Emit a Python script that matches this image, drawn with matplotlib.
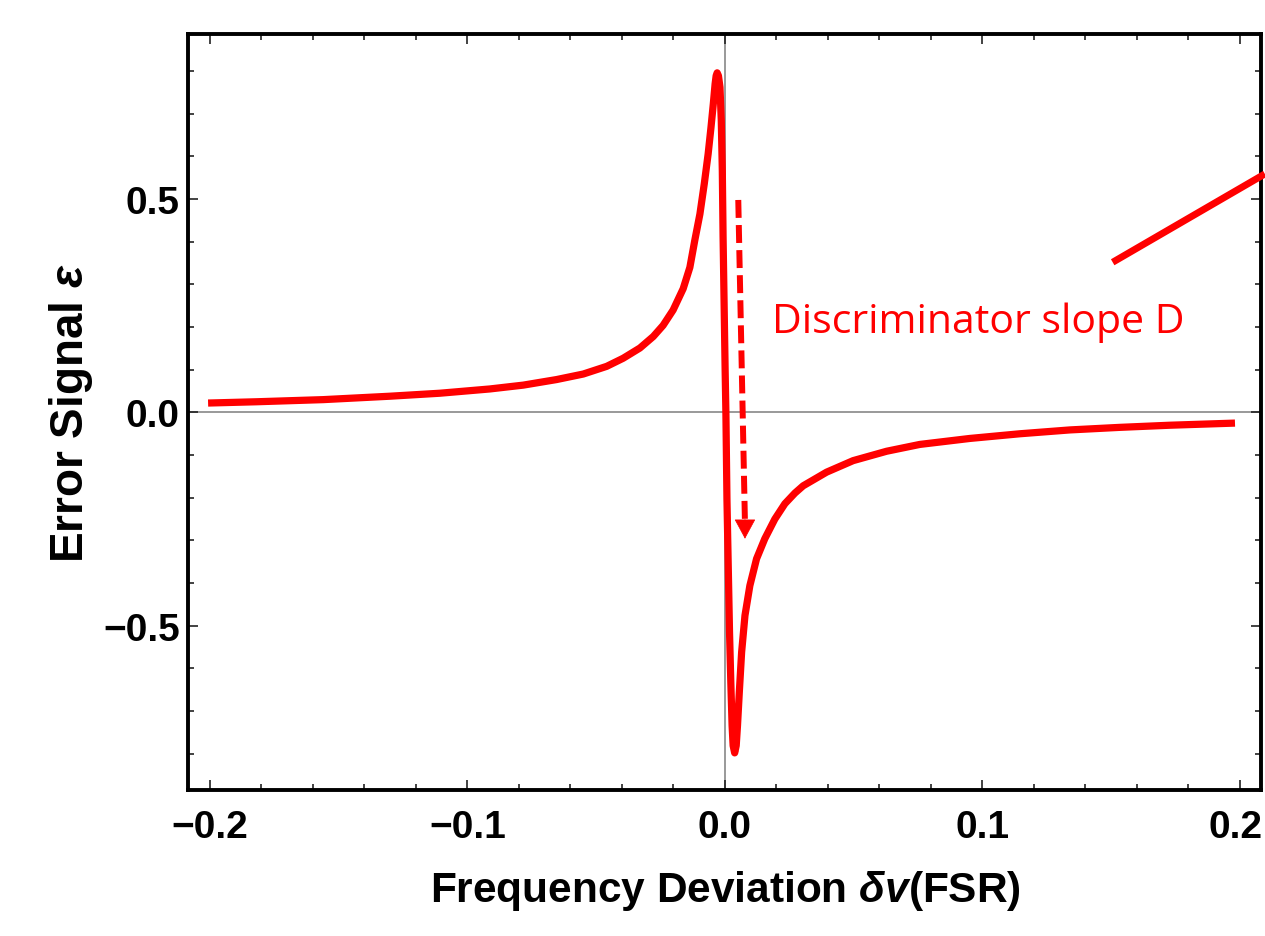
import matplotlib
matplotlib.use("Agg")
import matplotlib.pyplot as plt
from matplotlib.ticker import MultipleLocator
from matplotlib.transforms import ScaledTranslation

# ---- data ----
dv_left = [-0.2007, -0.1819, -0.1560, -0.1301, -0.1107, -0.0913, -0.0783, -0.0654,
           -0.0550, -0.0459, -0.0395, -0.0330, -0.0278, -0.0240, -0.0201, -0.0162,
           -0.0136, -0.0117, -0.0097, -0.0080, -0.0065, -0.0054, -0.0045, -0.0038,
           -0.0034, -0.0030, -0.0025, -0.0019, -0.0014, -0.0010, -0.0007, -0.0003,
           0.0001, 0.0004]
eps_left = [0.022, 0.025, 0.030, 0.038, 0.045, 0.055, 0.064, 0.077,
            0.090, 0.108, 0.127, 0.151, 0.178, 0.204, 0.240, 0.290,
            0.340, 0.403, 0.465, 0.536, 0.606, 0.668, 0.723, 0.770,
            0.789, 0.796, 0.789, 0.762, 0.684, 0.567, 0.411, 0.254,
            0.098, -0.004]
dv_right = [0.0008, 0.0013, 0.0018, 0.0023, 0.0028, 0.0032, 0.0038, 0.0044,
            0.0049, 0.0056, 0.0065, 0.0078, 0.0097, 0.0123, 0.0155, 0.0194,
            0.0233, 0.0272, 0.0304, 0.0395, 0.0498, 0.0628, 0.0757, 0.0951,
            0.1146, 0.1340, 0.1534, 0.1728, 0.1981]
eps_right = [-0.203, -0.359, -0.515, -0.632, -0.734, -0.781, -0.798, -0.781,
             -0.734, -0.656, -0.562, -0.476, -0.406, -0.343, -0.296, -0.250,
             -0.214, -0.189, -0.172, -0.140, -0.113, -0.091, -0.075, -0.061,
             -0.050, -0.041, -0.035, -0.030, -0.025]

slope_dv = [0.1506, 0.2097]
slope_eps = [0.352, 0.559]

arrow_dv = [0.0052, 0.0078]
arrow_eps = [0.498, -0.296]

xticks = [-0.2, -0.1, 0.0, 0.1, 0.2]
xticklabels = ["\u22120.2", "\u22120.1", "0.0", "0.1", "0.2"]
yticks = [-0.5, 0.0, 0.5]
yticklabels = ["\u22120.5", "0.0", "0.5"]

annot_text = "Discriminator slope D"
xlabel = r"Frequency Deviation $\delta v$(FSR)"
ylabel = r"Error Signal $\varepsilon$"

# ---- fonts ----
plt.rcParams["font.family"] = ["Liberation Sans", "DejaVu Sans"]
plt.rcParams["mathtext.fontset"] = "custom"
plt.rcParams["mathtext.it"] = "Liberation Sans:italic:bold"
plt.rcParams["mathtext.rm"] = "Liberation Sans:bold"

RED = "#ff0000"

fig = plt.figure(figsize=(12.65, 9.37), dpi=100)
ax = fig.add_axes([188 / 1265, 1 - 791 / 937, (1261 - 188) / 1265, (791 - 35) / 937])

ax.set_xlim(-0.2085, 0.2082)
ax.set_ylim(-0.885, 0.887)

ax.axhline(0, color="#888888", lw=1.2, zorder=1)
ax.axvline(0, color="#888888", lw=1.2, zorder=1)

dv = dv_left + dv_right
eps = eps_left + eps_right
ax.plot(dv, eps, color=RED, lw=5.2, solid_capstyle="butt", solid_joinstyle="round", zorder=3)

ax.plot(slope_dv, slope_eps, color=RED, lw=5.0, solid_capstyle="butt", clip_on=False, zorder=3)

# dashed arrow
ax.plot(arrow_dv, [arrow_eps[0], arrow_eps[1] + 0.035], color=RED, lw=4.3,
        linestyle=(0, (3.0, 1.2)), dash_capstyle="butt", zorder=3)
ax.annotate("", xy=(arrow_dv[1], arrow_eps[1]), xytext=(arrow_dv[1], arrow_eps[1] + 0.045),
            arrowprops=dict(arrowstyle="-|>,head_length=0.65,head_width=0.35",
                            mutation_scale=20, color=RED, lw=0.5,
                            shrinkA=0, shrinkB=0), zorder=4)

ax.text(0.0183, 0.188, annot_text, color=RED, fontsize=29.5, family="Open Sans",
        ha="left", va="baseline")

for s in ax.spines.values():
    s.set_linewidth(2.8)
    s.set_color("black")

ax.set_xticks(xticks)
ax.set_xticklabels(xticklabels)
ax.set_yticks(yticks)
ax.set_yticklabels(yticklabels)
ax.xaxis.set_minor_locator(MultipleLocator(0.02))
ax.yaxis.set_minor_locator(MultipleLocator(0.1))
ax.tick_params(which="both", direction="in", top=True, right=True, width=1.2, color="#222222")
ax.tick_params(which="major", length=7)
ax.tick_params(which="minor", length=4.5)
ax.tick_params(axis="x", which="major", pad=14, labelsize=28)
ax.tick_params(axis="y", which="major", pad=6, labelsize=28)
for lab in ax.get_xticklabels() + ax.get_yticklabels():
    lab.set_fontweight("bold")
last = ax.get_xticklabels()[-1]
last.set_transform(last.get_transform() + ScaledTranslation(-4 / 100, 0, fig.dpi_scale_trans))

ax.set_xlabel(xlabel, fontsize=30.5, fontweight="bold")
ax.xaxis.set_label_coords(0.5005, -0.103)
ax.set_ylabel(ylabel, fontsize=33, fontweight="bold")
ax.yaxis.set_label_coords(-0.087, 0.50)

fig.savefig("out.png", dpi=100)
